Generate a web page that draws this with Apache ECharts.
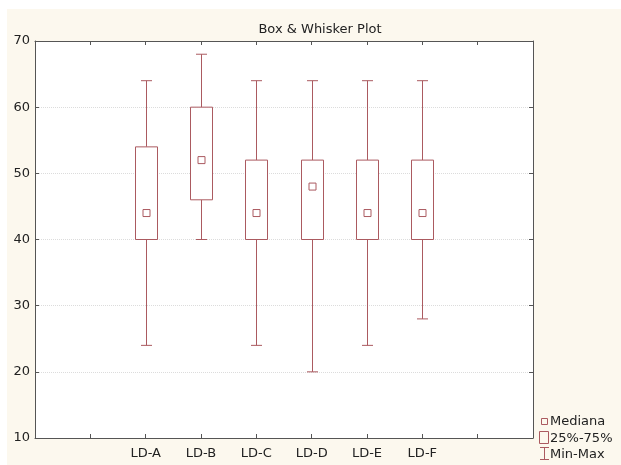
<!DOCTYPE html>
<html>
<head>
<meta charset="utf-8">
<style>html,body{margin:0;padding:0;background:#fff;}#c{width:621px;height:465px;}</style>
<script src="https://cdn.jsdelivr.net/npm/echarts@6/dist/echarts.min.js"></script>
</head>
<body>
<div id="c"></div>
<script>
var xCategories = ['', '', 'LD-A', 'LD-B', 'LD-C', 'LD-D', 'LD-E', 'LD-F', '', ''];
var groups = ['LD-A', 'LD-B', 'LD-C', 'LD-D', 'LD-E', 'LD-F'];
var minVals = [24, 40, 24, 20, 24, 28];
var q1Vals = [40, 46, 40, 40, 40, 40];
var medianVals = [44, 52, 44, 48, 44, 44];
var q3Vals = [54, 60, 52, 52, 52, 52];
var maxVals = [64, 68, 64, 64, 64, 64];
var yTicks = [10, 20, 30, 40, 50, 60, 70];

var data = groups.map(function (g, i) {
  return [g, minVals[i], q1Vals[i], medianVals[i], q3Vals[i], maxVals[i]];
});

var boxColor = '#ab5a60';
var font = 'DejaVu Sans';

var chart = echarts.init(document.getElementById('c'), null, {renderer: 'canvas'});

function renderItem(params, api) {
  var cat = api.value(0);
  var pMin = api.coord([cat, api.value(1)]);
  var pQ1 = api.coord([cat, api.value(2)]);
  var pMed = api.coord([cat, api.value(3)]);
  var pQ3 = api.coord([cat, api.value(4)]);
  var pMax = api.coord([cat, api.value(5)]);
  var x = Math.round(pMin[0]) + 0.5;
  var bw = 22, cw = 11, ms = 7;
  var ls = {stroke: boxColor, lineWidth: 1, fill: null};
  return {
    type: 'group',
    children: [
      {type: 'line', shape: {x1: x, y1: pMin[1], x2: x, y2: pQ1[1]}, style: ls},
      {type: 'line', shape: {x1: x, y1: pQ3[1], x2: x, y2: pMax[1]}, style: ls},
      {type: 'line', shape: {x1: x - cw / 2, y1: pMin[1], x2: x + cw / 2, y2: pMin[1]}, style: ls},
      {type: 'line', shape: {x1: x - cw / 2, y1: pMax[1], x2: x + cw / 2, y2: pMax[1]}, style: ls},
      {type: 'rect', shape: {x: x - bw / 2, y: pQ3[1], width: bw, height: pQ1[1] - pQ3[1]},
        style: {stroke: boxColor, lineWidth: 1, fill: '#fff'}},
      {type: 'rect', shape: {x: x - ms / 2, y: pMed[1] - ms / 2, width: ms, height: ms},
        style: {stroke: boxColor, lineWidth: 1, fill: '#fff'}}
    ]
  };
}

var axisLineStyle = {color: '#555', width: 1};
var option = {
  backgroundColor: '#fff',
  animation: false,
  title: {
    text: 'Box & Whisker Plot',
    left: 315, top: 18, textAlign: 'center',
    textStyle: {fontFamily: font, fontSize: 13, fontWeight: 'normal', color: '#222'}
  },
  graphic: [
    {type: 'rect', z: -10, silent: true, shape: {x: 7, y: 9, width: 614, height: 456}, style: {fill: '#fcf8ee'}},
    {type: 'rect', shape: {x: 541.5, y: 418.5, width: 6, height: 6}, style: {stroke: boxColor, fill: null, lineWidth: 1}},
    {type: 'text', left: 550, top: 415, style: {text: 'Mediana', fontFamily: font, fontSize: 13, fill: '#222'}},
    {type: 'rect', shape: {x: 539.5, y: 431.5, width: 9, height: 12}, style: {stroke: boxColor, fill: null, lineWidth: 1}},
    {type: 'text', left: 550, top: 432, style: {text: '25%-75%', fontFamily: font, fontSize: 13, fill: '#222'}},
    {type: 'line', shape: {x1: 544.5, y1: 447, x2: 544.5, y2: 460}, style: {stroke: boxColor, lineWidth: 1}},
    {type: 'line', shape: {x1: 540, y1: 447.5, x2: 549, y2: 447.5}, style: {stroke: boxColor, lineWidth: 1}},
    {type: 'line', shape: {x1: 540, y1: 459.5, x2: 549, y2: 459.5}, style: {stroke: boxColor, lineWidth: 1}},
    {type: 'text', left: 550, top: 448, style: {text: 'Min-Max', fontFamily: font, fontSize: 13, fill: '#222'}}
  ],
  grid: {left: 35, right: 88, top: 41, bottom: 27, show: true, backgroundColor: '#fff', borderWidth: 0},
  xAxis: [
    {
      type: 'category', data: xCategories, boundaryGap: false, position: 'bottom',
      axisLine: {lineStyle: axisLineStyle},
      axisTick: {inside: true, length: 4, lineStyle: {color: '#555'}, interval: 0},
      axisLabel: {fontFamily: font, fontSize: 13, color: '#222', margin: 9, interval: 0},
      splitLine: {show: false}
    },
    {
      type: 'category', data: xCategories, boundaryGap: false, position: 'top',
      axisLine: {lineStyle: axisLineStyle},
      axisTick: {inside: true, length: 4, lineStyle: {color: '#555'}, interval: 0},
      axisLabel: {show: false},
      splitLine: {show: false}
    }
  ],
  yAxis: [
    {
      type: 'value', min: yTicks[0], max: yTicks[yTicks.length - 1], interval: 10, position: 'left',
      axisLine: {show: true, lineStyle: axisLineStyle},
      axisTick: {show: true, inside: true, length: 4, lineStyle: {color: '#555'}},
      axisLabel: {fontFamily: font, fontSize: 13, color: '#222', margin: 5},
      splitLine: {show: true, lineStyle: {color: '#dcdcdc', type: 'dotted', width: 1}}
    },
    {
      type: 'value', min: yTicks[0], max: yTicks[yTicks.length - 1], interval: 10, position: 'right',
      axisLine: {show: true, lineStyle: axisLineStyle},
      axisTick: {show: true, inside: true, length: 4, lineStyle: {color: '#555'}},
      axisLabel: {show: false},
      splitLine: {show: false}
    }
  ],
  series: [{
    type: 'custom',
    renderItem: renderItem,
    encode: {x: 0, y: [1, 2, 3, 4, 5]},
    data: data,
    clip: false
  }]
};
chart.setOption(option);
</script>
</body>
</html>
